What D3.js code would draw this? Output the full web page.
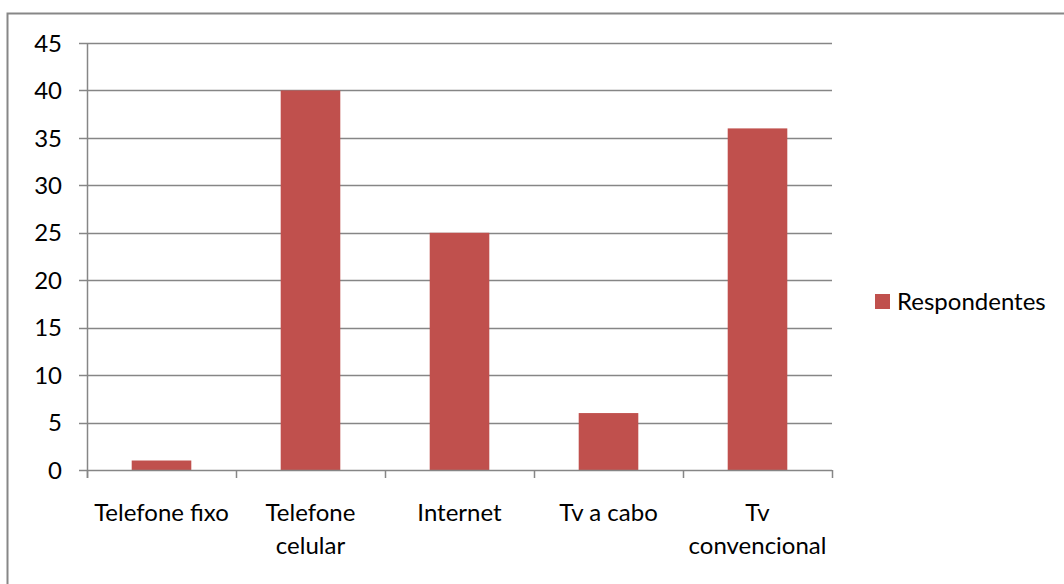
<!DOCTYPE html>
<html>
<head>
<meta charset="utf-8">
<script src="https://cdn.jsdelivr.net/npm/d3@7"></script>
<style>
  html, body { margin: 0; padding: 0; background: #fff; }
  svg { display: block; }
  text { font-family: Lato, "Open Sans", sans-serif; fill: #000; }
</style>
</head>
<body>
<svg id="chart" width="1064" height="584"></svg>
<script>
// Chart data
const categories = [["Telefone fixo"], ["Telefone", "celular"], ["Internet"], ["Tv a cabo"], ["Tv", "convencional"]];
const respondentes = [1, 40, 25, 6, 36];
const yTicks = [0, 5, 10, 15, 20, 25, 30, 35, 40, 45];
const seriesName = "Respondentes";

const svg = d3.select("#chart");
const gridColor = "#868686";
const barColor = "#C0504D";
const fontSize = 24;

// Outer chart frame
svg.append("rect")
  .attr("x", 7.5).attr("y", 13.5)
  .attr("width", 1070).attr("height", 600)
  .attr("fill", "#fff").attr("stroke", "#878787").attr("stroke-width", 2);

const plot = { left: 87, right: 832, top: 43, bottom: 470 };

const x = d3.scaleBand()
  .domain(d3.range(categories.length))
  .range([plot.left, plot.right])
  .padding(0);

const y = d3.scaleLinear()
  .domain([0, 45])
  .range([plot.bottom, plot.top]);

// Horizontal grid lines with left tick stubs
svg.append("g")
  .selectAll("line")
  .data(yTicks.filter(d => d > 0))
  .join("line")
  .attr("x1", plot.left - 8).attr("x2", plot.right)
  .attr("y1", d => Math.round(y(d)) + 0.5).attr("y2", d => Math.round(y(d)) + 0.5)
  .attr("stroke", gridColor).attr("stroke-width", 1.5);

// Bars
const barW = x.bandwidth() * 0.4;
svg.append("g")
  .selectAll("rect")
  .data(respondentes)
  .join("rect")
  .attr("x", (d, i) => x(i) + (x.bandwidth() - barW) / 2)
  .attr("y", d => y(d))
  .attr("width", barW)
  .attr("height", d => y(0) - y(d))
  .attr("fill", barColor);

// Y axis line
svg.append("line")
  .attr("x1", plot.left + 0.5).attr("x2", plot.left + 0.5)
  .attr("y1", y(45)).attr("y2", plot.bottom + 8)
  .attr("stroke", gridColor).attr("stroke-width", 1.5);

// X axis line with ticks at category boundaries
svg.append("line")
  .attr("x1", plot.left - 8).attr("x2", plot.right)
  .attr("y1", plot.bottom + 0.5).attr("y2", plot.bottom + 0.5)
  .attr("stroke", gridColor).attr("stroke-width", 1.5);

svg.append("g")
  .selectAll("line")
  .data(d3.range(categories.length + 1))
  .join("line")
  .attr("x1", i => i < categories.length ? x(i) + 0.5 : plot.right + 0.5)
  .attr("x2", i => i < categories.length ? x(i) + 0.5 : plot.right + 0.5)
  .attr("y1", plot.bottom).attr("y2", plot.bottom + 8)
  .attr("stroke", gridColor).attr("stroke-width", 1.5);

// Y tick labels
svg.append("g")
  .selectAll("text")
  .data(yTicks)
  .join("text")
  .attr("x", 62)
  .attr("y", d => y(d))
  .attr("dy", "0.36em")
  .attr("text-anchor", "end")
  .attr("font-size", fontSize)
  .text(d => d);

// Category labels
const catLabels = svg.append("g")
  .selectAll("text")
  .data(categories)
  .join("text")
  .attr("x", (d, i) => x(i) + x.bandwidth() / 2)
  .attr("y", 521)
  .attr("text-anchor", "middle")
  .attr("font-size", fontSize);
catLabels.selectAll("tspan")
  .data(d => d)
  .join("tspan")
  .attr("x", function () { return d3.select(this.parentNode).attr("x"); })
  .attr("dy", (d, i) => i === 0 ? 0 : 32.5)
  .text(d => d);

// Legend
svg.append("rect")
  .attr("x", 875).attr("y", 294)
  .attr("width", 15).attr("height", 15)
  .attr("fill", barColor);
svg.append("text")
  .attr("x", 897).attr("y", 301)
  .attr("dy", "0.36em")
  .attr("font-size", fontSize)
  .text(seriesName);
</script>
</body>
</html>
